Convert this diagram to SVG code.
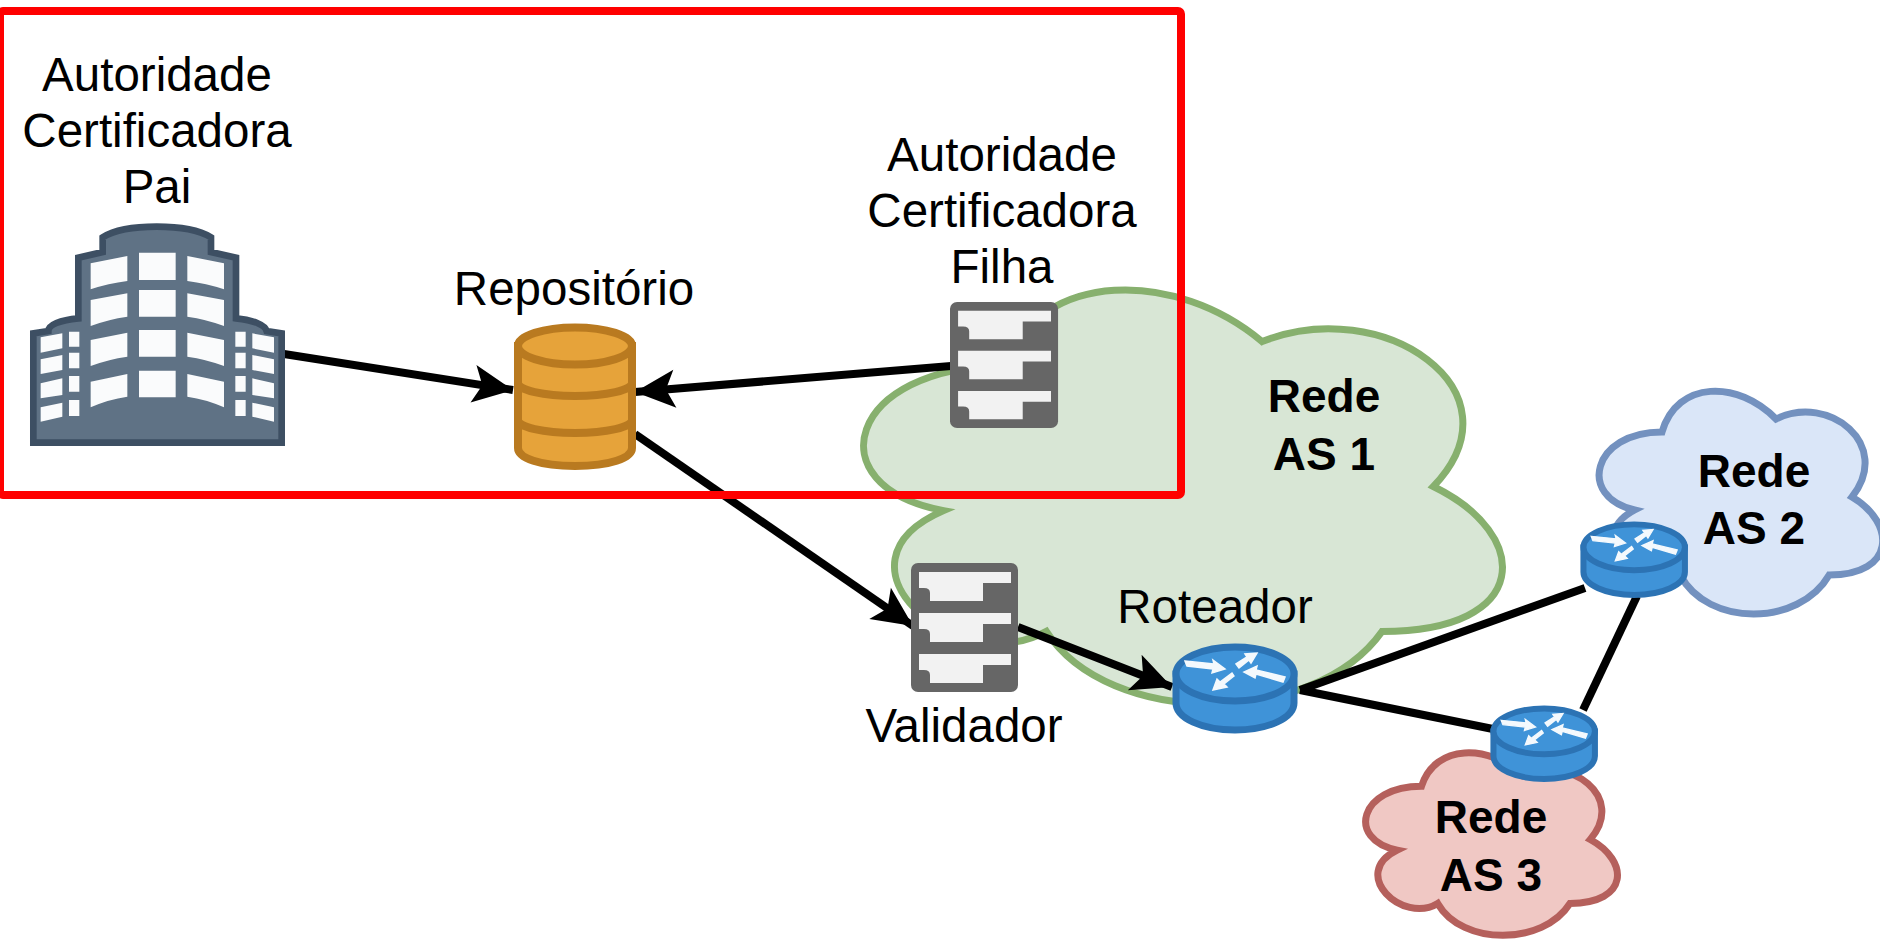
<svg xmlns="http://www.w3.org/2000/svg" xmlns:xlink="http://www.w3.org/1999/xlink" width="1880" height="941" viewBox="0 0 1880 941">
<style>
text{font-family:"Liberation Sans",Arial,sans-serif;font-size:47.5px;fill:#000;text-anchor:middle}
.b{font-weight:bold;font-size:46px}
.cl{vector-effect:non-scaling-stroke;stroke-width:7}
.ln{fill:none;stroke:#000;stroke-width:8}
.win{fill:#fafbfc}
</style>
<defs>
<marker id="arr" markerUnits="userSpaceOnUse" markerWidth="48" markerHeight="44" refX="42" refY="20" orient="auto" viewBox="0 0 48 40"><path d="M42,20 L2,1 L11,20 L2,39 Z" fill="#000"/></marker>
<g id="server">
<rect width="107" height="129" rx="7" fill="#666"/>
<path d="M8,9H100V20H72V38H19V30Q19,25 13,25H8Z" fill="#f2f2f2"/>
<path d="M8,50H100V61H72V79H19V71Q19,66 13,66H8Z" fill="#f2f2f2"/>
<path d="M8,91H100V102H72V120H19V112Q19,107 13,107H8Z" fill="#f2f2f2"/>
</g>
<g id="router">
<path d="M4,31V60C4,75 30,87 63,87C96,87 122,75 122,60V31Z" fill="#3f93d8" stroke="#2c73b4" stroke-width="7"/>
<ellipse cx="63" cy="31" rx="59" ry="27" fill="#3f93d8" stroke="#2c73b4" stroke-width="7"/>
<path d="M13,18L42,21L41,17L53,26L40,30L41,26L15,23Z M64,21L75,14L73,11L85,10L79,20L77,17L67,25Z M113,34L84,27L85,23L72,29L83,35L84,31L111,39Z M62,33L52,41L55,44L41,47L45,36L48,39L60,30Z" fill="#f4f9fd" stroke="#f4f9fd" stroke-width="1.5"/>
</g>
<g id="bwing">
<path class="win" d="M272,190L382,168V243Q325,250 272,268Z M272,300L382,280V350Q325,358 272,378Z M272,420L382,398V470Q325,478 272,498Z M272,545L382,522V590Q325,598 272,622Z M122,412L187,400V445L122,458Z M122,478L187,465V510L122,522Z M122,550L187,535V585L122,595Z M122,622L187,608V650L122,665Z M207,395H238V440H207Z M207,458H238V505H207Z M207,528H238V575H207Z M207,600H238V648H207Z"/>
</g>
</defs>

<g id="clouds">
<path id="cloud-as1" class="cl" transform="translate(834,245) scale(685,483)" fill="#d8e6d5" stroke="#87b06e" d="M.25,.25C.02,.25 -.03,.5 .16,.55C-.02,.66 .18,.9 .31,.8C.4,1 .7,1 .8,.8C1.02,.8 1.02,.6 .875,.5C1.01,.3 .8,.1 .625,.2C.5,.05 .3,.05 .25,.25Z"/>
<path id="cloud-as2" class="cl" transform="translate(1586,367) scale(304,260)" fill="#dae6f8" stroke="#7391bf" d="M.25,.25C.02,.25 -.03,.5 .16,.55C-.02,.66 .18,.9 .31,.8C.4,1 .7,1 .8,.8C1.02,.8 1.02,.6 .875,.5C1.01,.3 .8,.1 .625,.2C.5,.05 .3,.05 .25,.25Z"/>
<path id="cloud-as3" class="cl" transform="translate(1354,733) scale(270,213)" fill="#f0c8c4" stroke="#b5605c" d="M.25,.25C.02,.25 -.03,.5 .16,.55C-.02,.66 .18,.9 .31,.8C.4,1 .7,1 .8,.8C1.02,.8 1.02,.6 .875,.5C1.01,.3 .8,.1 .625,.2C.5,.05 .3,.05 .25,.25Z"/>
</g>

<g id="connectors">
<path class="ln" d="M284,354L513,390" marker-end="url(#arr)"/>
<path class="ln" d="M951,366L635,392" marker-end="url(#arr)"/>
<path class="ln" d="M635,434L913,626" marker-end="url(#arr)"/>
<path class="ln" d="M1018,627L1172,687" marker-end="url(#arr)"/>
<path class="ln" d="M1300,690L1585,588"/>
<path class="ln" d="M1300,690L1493,729"/>
<path class="ln" d="M1637,596L1583,710"/>
</g>

<g id="node-ca-pai">
<g transform="translate(0,200) scale(.33333)">
<path d="M100,728V400L145,393C145,375 180,360 235,355V173L308,156V112C340,92 400,80 470,80C540,80 600,92 633,112V156L708,173V355C760,360 795,375 800,393L845,400V728Z" fill="#5f7285" stroke="#3d4f63" stroke-width="20"/>
<use xlink:href="#bwing" href="#bwing"/>
<use xlink:href="#bwing" href="#bwing" transform="translate(944,0) scale(-1,1)"/>
<path class="win" d="M417,158H527V240H417Z M417,270H527V350H417Z M417,390H527V470H417Z M417,512H527V592H417Z"/>
</g>
<text x="157" y="91">Autoridade</text>
<text x="157" y="147">Certificadora</text>
<text x="157" y="203">Pai</text>
</g>

<g id="node-repositorio">
<path d="M518,346V448C518,458 540,466 575,466C610,466 632,458 632,448V346Z" fill="#e6a33a" stroke="#b97a20" stroke-width="8"/>
<ellipse cx="575" cy="346" rx="57" ry="18.5" fill="#e6a33a" stroke="#b97a20" stroke-width="8"/>
<path d="M518,383A57,13 0 0 0 632,383M518,420A57,13 0 0 0 632,420" fill="none" stroke="#b97a20" stroke-width="8"/>
<text x="574" y="305">Repositório</text>
</g>

<g id="node-ca-filha">
<use xlink:href="#server" href="#server" transform="translate(950,302) scale(1.01,.977)"/>
<text x="1002" y="171">Autoridade</text>
<text x="1002" y="227">Certificadora</text>
<text x="1002" y="283">Filha</text>
</g>

<g id="node-validador">
<use xlink:href="#server" href="#server" x="911" y="563"/>
<text x="964" y="742">Validador</text>
</g>

<g id="node-roteador">
<use xlink:href="#router" href="#router" x="1172" y="643"/>
<text x="1215" y="623">Roteador</text>
</g>
<g id="node-roteador-2"><use xlink:href="#router" href="#router" transform="translate(1580,521) scale(.86,.85)"/></g>
<g id="node-roteador-3"><use xlink:href="#router" href="#router" transform="translate(1490,705) scale(.86,.85)"/></g>

<g id="labels">
<text class="b" x="1324" y="412">Rede</text>
<text class="b" x="1324" y="470">AS 1</text>
<text class="b" x="1754" y="487">Rede</text>
<text class="b" x="1754" y="544">AS 2</text>
<text class="b" x="1491" y="833">Rede</text>
<text class="b" x="1491" y="891">AS 3</text>
</g>

<rect id="frame" x="0" y="11" width="1181" height="484" rx="3" fill="none" stroke="#ff0000" stroke-width="8"/>
</svg>
